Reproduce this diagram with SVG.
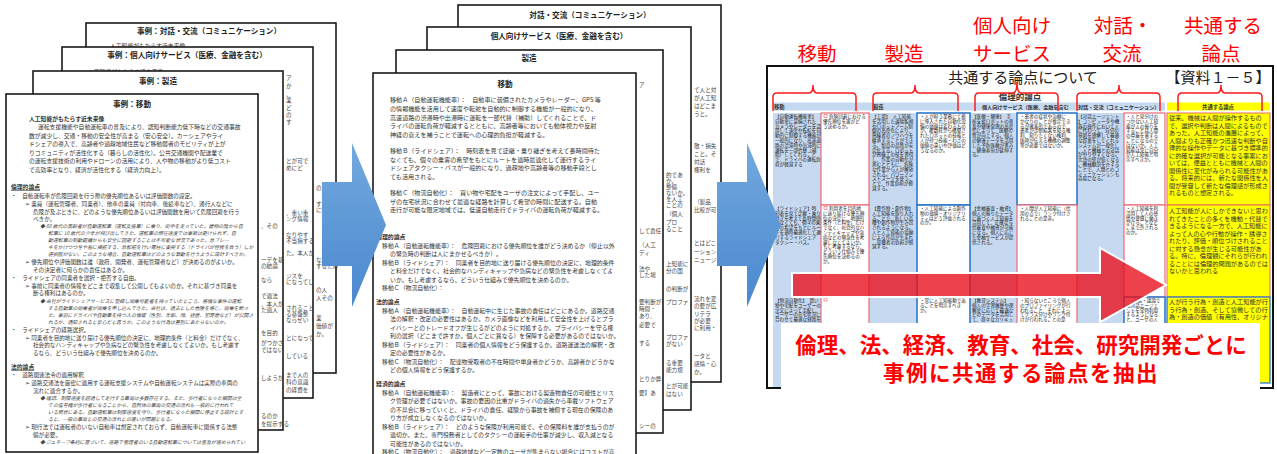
<svg xmlns="http://www.w3.org/2000/svg" width="1277" height="454" viewBox="0 0 1277 454">
<defs>
<linearGradient id="bg" x1="0" y1="0" x2="0" y2="1"><stop offset="0" stop-color="#72a9de"/><stop offset="1" stop-color="#4a88cf"/></linearGradient>
<style>
text{font-family:"Noto Sans CJK JP","Noto Sans CJK SC",sans-serif}
.pg{fill:#fff;stroke:#1a1a1a;stroke-width:1.6}
.ttl{font-size:7.6px;font-weight:bold;text-anchor:middle;fill:#222}
.l{font-size:5.8px;fill:#333}
.ls{font-size:5.6px;fill:#333}
.it{font-size:4.9px;fill:#444;font-style:italic}
.m{font-size:6.1px;fill:#333}
.ms{font-size:5.9px;fill:#333}
.h{font-weight:bold}
.u{text-decoration:underline}
.fr{font-size:5.6px;fill:#444}
.c{font-size:4.6px;fill:#1a1a1a}
.y{font-size:6.2px;fill:#333}
.lbl{font-size:19.5px;fill:#ff0000;text-anchor:middle}
.br{fill:none;stroke:#ff1a1a;stroke-width:1.5}
.iw{fill:#fff;stroke-width:1.2}
.rd{stroke:#ec6a76}
.bl{stroke:#2f78c8;stroke-width:1.6}
.big{font-size:21.5px;font-weight:bold;fill:#ff0000;text-anchor:middle}
</style>
</defs>

<!-- LEFT STACK -->
<g id="left-p4">
<rect class="pg" x="86" y="23" width="250" height="350"/>
<text class="ttl" x="209" y="34">事例：対話・交流（コミュニケーション）</text>
<text class="l" x="110" y="48">人工知能がもたらす近未来像</text>
<text class="fr" x="316" y="190">の活</text><text class="fr" x="316" y="206">すると</text><text class="fr" x="316" y="212">に提</text>
<text class="fr" x="316" y="262">な連携</text><text class="fr" x="316" y="268">するため</text><text class="fr" x="316" y="292">の人</text><text class="fr" x="316" y="300">人その</text>
<text class="fr" x="316" y="320">業</text><text class="fr" x="316" y="328">価値が</text><text class="fr" x="316" y="336">か。</text>
</g>
<g id="left-p3">
<rect class="pg" x="62" y="47" width="251" height="351"/>
<text class="ttl" x="187" y="58">事例：個人向けサービス（医療、金融を含む）</text>
<text class="l" x="88" y="73.5">人工知能がもたらす近未来像</text>
<text class="fr" x="286" y="80">ア</text><text class="fr" x="286" y="88">か</text><text class="fr" x="286" y="96">、</text><text class="fr" x="286" y="102">業</text><text class="fr" x="286" y="110">ど</text><text class="fr" x="286" y="117">の</text><text class="fr" x="286" y="124">す</text>
<text class="fr" x="286" y="163">とが可で</text><text class="fr" x="286" y="170">めにど</text>
<text class="fr" x="286" y="215">、重い重</text><text class="fr" x="286" y="221">ング情報</text><text class="fr" x="286" y="237">なりやす</text><text class="fr" x="286" y="243">不当損する</text><text class="fr" x="286" y="255">た。本人が</text>
<text class="fr" x="286" y="278">ジスを</text><text class="fr" x="286" y="284">になってし</text><text class="fr" x="286" y="310">されること</text><text class="fr" x="286" y="316">る基盤整</text><text class="fr" x="286" y="322">ならせい</text>
<text class="fr" x="286" y="340">とになって</text><text class="fr" x="286" y="358">している</text><text class="fr" x="286" y="377">まで人の</text><text class="fr" x="286" y="384">科の意識</text><text class="fr" x="286" y="392">の経費を</text>
</g>
<g id="left-p2">
<rect class="pg" x="33" y="71" width="250" height="359"/>
<text class="ttl" x="158" y="84">事例：製造</text>
<text class="fr" x="261" y="228">、その</text><text class="fr" x="261" y="262">ーデを基</text><text class="fr" x="261" y="268">の結論</text><text class="fr" x="261" y="282">なら</text>
<text class="fr" x="261" y="298">で適法</text><text class="fr" x="261" y="306">、本人が</text><text class="fr" x="261" y="312">た過人</text><text class="fr" x="261" y="335">を目的</text>
<text class="fr" x="261" y="345">がつかさ</text><text class="fr" x="261" y="352">ではない</text><text class="fr" x="261" y="380">しようが</text><text class="fr" x="261" y="418">るのか</text><text class="fr" x="261" y="426">を提示する</text>
</g>
<g id="left-p1">
<rect class="pg" x="6" y="94" width="252" height="358"/>
<text class="ttl" x="132" y="107">事例：移動</text>
<text class="l h" x="29" y="121">人工知能がもたらす近未来像</text>
<text class="l" x="38" y="129">運転支援機能や自動運転車の普及により、認知判断能力低下時などの交通事故</text>
<text class="l" x="29" y="137.5">数が減少し、交通・移動の安全性が高まる（安心安全）。カーシェアやライ</text>
<text class="l" x="29" y="146">ドシェアの導入で、高齢者や過疎地域住民など移動弱者のモビリティが上が</text>
<text class="l" x="29" y="154.5">りコミュニティが活性化する（暮らしの活性化）。公共交通機関や配送業で</text>
<text class="l" x="29" y="163">の運転支援技術の利用やドローンの活用により、人や物の移動がより低コスト</text>
<text class="l" x="29" y="171.5">で高効率となり、経済が活性化する（経済力向上）。</text>
<text class="l h u" x="11" y="189">倫理的論点</text>
<text class="ls" x="11" y="198">・　自動運転車が危険回避を行う際の優先順位あるいは評価関数の設定。</text>
<text class="ls" x="25" y="206">➢ 乗員（運転管理者、同乗者）、他車の乗員（対向車、後続車など）、通行人などに</text>
<text class="ls" x="33" y="213.5">危険が及ぶときに、どのような優先順位あるいは評価関数を用いて危険回避を行う</text>
<text class="ls" x="33" y="221">べきか。</text>
<text class="it" x="40" y="228">◆ 60 歳代の高齢者が自動運転車（運転支援車）に乗り、街中を走っていた。建物の陰から自</text>
<text class="it" x="48" y="235">転車に 10 歳代の少年が飛び出してきた。運転車の現在速度では事故は避けられず、自</text>
<text class="it" x="48" y="242">動運転車の制動距離からも安全に回避することは不可能な状況であった。急ブレー</text>
<text class="it" x="48" y="249">キをかけつつ左や右に操舵する、急転舵を行い電柱に衝突する（ドライバが怪我を負う）しか</text>
<text class="it" x="48" y="256">選択肢がない。このような場合、自動運転車はどのような挙動を行うように設計すべきか。</text>
<text class="ls" x="25" y="264">➢ 優先順位や評価関数は誰（政府、開発者、運転管理者など）が決めるのがよいか。</text>
<text class="ls" x="33" y="271.5">その決定者に何らかの責任はあるか。</text>
<text class="ls" x="11" y="279.5">・　ライドシェアの同乗者を選択・拒否する自由。</text>
<text class="ls" x="25" y="287.5">➢ 事前に同乗者の情報をどこまで収集して公開してもよいのか。それに基づき同乗を</text>
<text class="ls" x="33" y="295">断る権利はあるのか。</text>
<text class="it" x="40" y="302.5">◆ 会社がライドシェアサービスに登録し同乗可能者を待っていたところ、感情な事件の運転</text>
<text class="it" x="48" y="309.5">する自動車の同乗者が同乗を申し込んできた。会社は、過去とした危険を感じ、同乗を断っ</text>
<text class="it" x="48" y="316.5">た。事前にドライバや自動車を持つ人の情報（性別、年齢、顔、経歴、犯罪歴など）が公開さ</text>
<text class="it" x="48" y="323.5">れるか、通知されると安心だと思うか。このような行為は差別にあたらないのか。</text>
<text class="ls" x="11" y="331.5">・　ライドシェアの経路選択。</text>
<text class="ls" x="25" y="339.5">➢ 同乗者を目的地に送り届ける優先順位の決定に、地理的条件（と料金）だけでなく、</text>
<text class="ls" x="33" y="347">社会的なハンディキャップや急病などの緊急性を考慮しなくてよいか。もし考慮す</text>
<text class="ls" x="33" y="354.5">るなら、どういう仕組みで優先順位を決めるのか。</text>
<text class="l h u" x="11" y="369">法的論点</text>
<text class="ls" x="11" y="377">・　道路関連法令の適用解釈</text>
<text class="ls" x="25" y="385">➢ 道路交通法を厳密に適用する運転支援システムや自動運転システムは実際の車両の</text>
<text class="ls" x="33" y="392.5">流れに適合するか。</text>
<text class="it" x="40" y="400">◆ 確認、制限速度を超過して走行する車両は多数存在する。また、歩行者になった瞬間は全</text>
<text class="it" x="48" y="407">ての信号機が歩行者になることから、自然体の車両の交通の流れも一般的に行われて</text>
<text class="it" x="48" y="414">いる現状にある。自動運転車は制限速度を守り、歩行者になった瞬間に停止する設計とす</text>
<text class="it" x="48" y="421">ると、一般の車両との交通の流れとの違いが問題となる。</text>
<text class="ls" x="25" y="429">➢ 現行法では運転者のいない自動車は想定されておらず、自動運転車に関係する法整</text>
<text class="ls" x="33" y="436.5">備が必要。</text>
<text class="it" x="40" y="444">◆ ジュネーブ条約に基づいて、道路で管理者のいる自動運転車については言及が進められてい</text>
</g>

<!-- MIDDLE STACK -->
<g id="mid-p4">
<rect class="pg" x="458" y="5" width="263" height="377"/>
<text class="ttl" x="590" y="18">対話・交流（コミュニケーション）</text>
<text class="fr" x="694" y="92">て人と対</text><text class="fr" x="694" y="100">が人工知</text><text class="fr" x="694" y="108">はどこま</text><text class="fr" x="694" y="116">うと。</text>
<text class="fr" x="694" y="148">敢・損失</text><text class="fr" x="694" y="156">こと。そ</text><text class="fr" x="694" y="164">対話</text><text class="fr" x="694" y="172">権利を</text>
<text class="fr" x="694" y="204">（製品</text><text class="fr" x="694" y="212">比較が可</text><text class="fr" x="694" y="245">とはどこ</text><text class="fr" x="694" y="254">ーション</text><text class="fr" x="694" y="262">ニュージ</text>
<text class="fr" x="694" y="301">流れを変</text><text class="fr" x="694" y="308">の要が広</text><text class="fr" x="694" y="316">リテラ</text><text class="fr" x="694" y="323">が必要</text><text class="fr" x="694" y="330">に利用・</text>
<text class="fr" x="694" y="358">ータと</text><text class="fr" x="694" y="366">感情・心</text><text class="fr" x="694" y="374">か。</text>
</g>
<g id="mid-p3">
<rect class="pg" x="427" y="27" width="264" height="383"/>
<text class="ttl" x="559" y="39">個人向けサービス（医療、金融を含む）</text>
<text class="fr" x="666" y="177">的であ</text><text class="fr" x="666" y="183">か。</text><text class="fr" x="666" y="189">整備</text><text class="fr" x="666" y="195">ないか。</text><text class="fr" x="666" y="201">を人工</text><text class="fr" x="666" y="207">ことの</text>
<text class="fr" x="666" y="216">（個人</text><text class="fr" x="666" y="224">プロ</text><text class="fr" x="666" y="231">ること</text><text class="fr" x="666" y="266">上知能に</text><text class="fr" x="666" y="273">分の国</text>
<text class="fr" x="666" y="291">の判断が</text><text class="fr" x="666" y="304">プロファ</text><text class="fr" x="666" y="339">プロファ</text><text class="fr" x="666" y="346">がない</text>
<text class="fr" x="666" y="365">る重要</text><text class="fr" x="666" y="372">能力規</text><text class="fr" x="666" y="388">とが可能</text><text class="fr" x="666" y="396">はない</text>
</g>
<g id="mid-p2">
<rect class="pg" x="396" y="50" width="267" height="383"/>
<text class="ttl" x="529" y="61">製造</text>
<text class="fr" x="639" y="87">ア</text>
<text class="fr" x="639" y="233">して責任</text><text class="fr" x="639" y="247">（人工</text><text class="fr" x="639" y="255">ディ</text><text class="fr" x="639" y="271">法や</text><text class="fr" x="639" y="277">した場</text>
<text class="fr" x="639" y="304">要判断が</text><text class="fr" x="639" y="311">時間・</text><text class="fr" x="639" y="318">あり、</text><text class="fr" x="639" y="327">必要で</text><text class="fr" x="639" y="345">する</text>
<text class="fr" x="639" y="381">とりか弊</text><text class="fr" x="639" y="395">要】あ</text><text class="fr" x="639" y="428">シーの</text>
</g>
<g id="mid-p1">
<rect class="pg" x="373" y="73" width="263" height="384"/>
<text class="ttl" x="505" y="87">移動</text>
<text class="m" x="390" y="102">移動Ａ（自動運転機能車）：　自動車に装備されたカメラやレーダー、GPS 等</text>
<text class="m" x="390" y="111">の情報機能を活用して速度や転舵を自動的に制御する機能が一般的になり、</text>
<text class="m" x="390" y="119.5">高速道路の渋滞時や出滞時に運転を一部代替（補助）してくれることで、ド</text>
<text class="m" x="390" y="128">ライバの運転負荷が軽減するとともに、高齢者等においても動体視力や反射</text>
<text class="m" x="390" y="136.5">神経の衰えを補うことで運転への心理的負担が軽減する。</text>
<text class="m" x="390" y="153">移動Ｂ（ライドシェア）：　時刻表を見て迂継・乗り継ぎを考えて長時間待た</text>
<text class="m" x="390" y="161.5">なくても、個々の乗客の希望をもとにルートを適時最適化して運行するライ</text>
<text class="m" x="390" y="170">ドシェアタクシー・バスが一般的になり、過疎地や高齢者等の移動手段とし</text>
<text class="m" x="390" y="178.5">ても活用される。</text>
<text class="m" x="390" y="195">移動Ｃ（物流自動化）：　買い物や宅配をユーザの注文によって手配し、ユー</text>
<text class="m" x="390" y="203.5">ザの在宅状況に合わせて最適な経路を計算して希望の時間に配送する。自動</text>
<text class="m" x="390" y="212">走行が可能な限定地域では、低速自動走行でドライバの運転負荷が軽減する。</text>
<text class="ms h" x="376" y="239">倫理的論点</text>
<text class="ms" x="382" y="247.5">移動Ａ（自動運転機能車）：　危険回避における優先順位を誰がどう決めるか（停止以外</text>
<text class="ms" x="390" y="256">の緊急時の判断は人にまかせるべきか）。</text>
<text class="ms" x="382" y="264.5">移動Ｂ（ライドシェア）：　同乗者を目的地に送り届ける優先順位の決定に、地理的条件</text>
<text class="ms" x="390" y="273">と料金だけでなく、社会的なハンディキャップや急病などの緊急性を考慮しなくてよ</text>
<text class="ms" x="390" y="281.5">いか。もし考慮するなら、どういう仕組みで優先順位を決めるのか。</text>
<text class="ms" x="382" y="290">移動Ｃ（物流自動化）：</text>
<text class="ms h" x="376" y="304">法的論点</text>
<text class="ms" x="382" y="312.5">移動Ａ（自動運転機能車）：　自動運転中に生じた事故の責任はどこにあるか。道路交通</text>
<text class="ms" x="390" y="321">法の解釈・改定の必要性はあるか。カメラ画像などを利用して安全性を上げるとプラ</text>
<text class="ms" x="390" y="329.5">イバシーとのトレードオフが生じるがどのように対処するか。プライバシーを守る権</text>
<text class="ms" x="390" y="338">利の選択（どこまで許すか。個人ごとに異なる）を保障する必要があるのではないか。</text>
<text class="ms" x="382" y="346.5">移動Ｂ（ライドシェア）：　同乗者の個人情報をどう保護するか。道路運送法の解釈・改</text>
<text class="ms" x="390" y="355">定の必要性があるか。</text>
<text class="ms" x="382" y="363.5">移動Ｃ（物流自動化）：　配達物受取者の不在時間や単身者かどうか、高齢者かどうかな</text>
<text class="ms" x="390" y="372">どの個人情報をどう保護するか。</text>
<text class="ms h" x="376" y="386">経済的論点</text>
<text class="ms" x="382" y="394.5">移動Ａ（自動運転機能車）：　製造者にとって、事故における製造物責任の可能性とリス</text>
<text class="ms" x="390" y="403">ク管理が必要ではないか。事故の要因の比重がドライバの過失から車載ソフトウェア</text>
<text class="ms" x="390" y="411.5">の不具合に移っていくと、ドライバの責任、経験から事故を補償する現在の保険のあ</text>
<text class="ms" x="390" y="420">り方が成立しなくなるのではないか。</text>
<text class="ms" x="382" y="428.5">移動Ｂ（ライドシェア）：　どのような保険が利用可能で、その保険料を誰が支払うのが</text>
<text class="ms" x="390" y="437">適切か。また、専門役務者としてのタクシーの運転手の仕事が減少し、収入減となる</text>
<text class="ms" x="390" y="445.5">可能性があるのではないか。</text>
<text class="ms" x="382" y="454">移動Ｃ（物流自動化）：　過疎地域など一定数のユーザが集まらない場合にはコストが高</text>
</g>

<!-- RIGHT SPREADSHEET -->
<g id="sheet">
<rect x="767" y="66" width="506" height="322" fill="#fff" stroke="#111" stroke-width="2"/>
<text x="1023" y="83" font-size="15" text-anchor="middle" fill="#222">共通する論点について</text>
<text x="1218" y="83" font-size="15" text-anchor="middle" fill="#222">【資料１－５】</text>
<text x="1020" y="100" font-size="8.5" font-weight="bold" text-anchor="middle" fill="#333">倫理的論点</text>
<rect x="773" y="102.5" width="392" height="8" fill="#c5d9f1"/>
<rect x="1167" y="102.5" width="103" height="8" fill="#ffff00"/>
<text x="774" y="109" font-size="5.3" font-weight="bold" fill="#333">移動</text>
<text x="873" y="109" font-size="5.3" font-weight="bold" fill="#333">製造</text>
<text x="982" y="109" font-size="5.1" font-weight="bold" fill="#333">個人向けサービス（医療、金融を含む</text>
<text x="1078" y="109" font-size="5.1" font-weight="bold" fill="#333">対話・交流（コミュニケーション）</text>
<text x="1218" y="109" font-size="5.3" font-weight="bold" text-anchor="middle" fill="#333">共通する論点</text>
<rect x="773" y="113" width="392" height="274" fill="#c6d9f1"/>
<rect class="iw rd" x="821" y="113" width="48" height="92"/>
<rect class="iw rd" x="821" y="205" width="48" height="92"/>
<rect class="iw rd" x="821" y="297" width="48" height="90"/>
<rect class="iw bl" x="917" y="113" width="53" height="92"/>
<rect class="iw bl" x="917" y="205" width="53" height="92"/>
<rect class="iw bl" x="917" y="297" width="53" height="90"/>
<rect class="iw bl" x="1017" y="113" width="60" height="92"/>
<rect class="iw rd" x="1017" y="205" width="60" height="92"/>
<rect class="iw rd" x="1017" y="297" width="60" height="90"/>
<rect class="iw rd" x="1124" y="113" width="41" height="92"/>
<rect class="iw rd" x="1124" y="205" width="41" height="92"/>
<rect class="iw bl" x="1124" y="297" width="41" height="90"/>
<rect x="1167" y="113" width="103" height="92" fill="#ffff00" stroke="#e35c5c" stroke-width="0.9"/>
<rect x="1167" y="205" width="103" height="92" fill="#ffff00" stroke="#e35c5c" stroke-width="0.9"/>
<rect x="1167" y="297" width="103" height="86" fill="#ffff00" stroke="#2f78c8" stroke-width="1.3"/>
<rect x="824" y="298" width="3" height="3" fill="#fff" stroke="#e35c5c" stroke-width="0.6"/>
<rect x="824" y="114.5" width="3" height="3" fill="#fff" stroke="#e35c5c" stroke-width="0.6"/>
<rect x="824" y="206.5" width="3" height="3" fill="#fff" stroke="#e35c5c" stroke-width="0.6"/>

<text class="c" x="775" y="118"><tspan x="775">【自動運転機能車】</tspan><tspan x="775" dy="4.8">自動車に装備された</tspan><tspan x="775" dy="4.8">カメラやレーダーを活</tspan><tspan x="775" dy="4.8">用して速度や転舵を自</tspan><tspan x="775" dy="4.8">動的に制御する機能が</tspan><tspan x="775" dy="4.8">一般的になり、高速道</tspan><tspan x="775" dy="4.8">路の渋滞時や出滞時に</tspan><tspan x="775" dy="4.8">運転を一部代替（補</tspan><tspan x="775" dy="4.8">助）してくれること</tspan><tspan x="775" dy="4.8">で、ドライバの運転負</tspan><tspan x="775" dy="4.8">荷が軽減する</tspan></text>
<text class="c" x="829" y="118"><tspan x="829">危険回避における</tspan><tspan x="823" dy="4.8">優先順位を誰がど</tspan><tspan x="823" dy="4.8">う決めるか。</tspan></text>
<text class="c" x="775" y="210"><tspan x="775">【ライドシェア】時</tspan><tspan x="775" dy="4.8">刻表を見て迂継・乗り</tspan><tspan x="775" dy="4.8">継ぎを考えて長時間待</tspan><tspan x="775" dy="4.8">たなくても、個々の乗</tspan><tspan x="775" dy="4.8">客の希望をもとにルー</tspan><tspan x="775" dy="4.8">トを適時最適化して運</tspan><tspan x="775" dy="4.8">行するライドシェア</tspan><tspan x="775" dy="4.8">タクシー・バス。</tspan></text>
<text class="c" x="829" y="210"><tspan x="829">利用者を目的地</tspan><tspan x="823" dy="4.8">に送り届ける優先順</tspan><tspan x="823" dy="4.8">位の決定に、地理的</tspan><tspan x="823" dy="4.8">条件（と料金）だけ</tspan><tspan x="823" dy="4.8">でなく、社会的なハ</tspan><tspan x="823" dy="4.8">ンディキャップや急</tspan><tspan x="823" dy="4.8">病などの緊急性を考</tspan><tspan x="823" dy="4.8">慮しなくてよいか。</tspan><tspan x="823" dy="4.8">もし考慮するなら、</tspan><tspan x="823" dy="4.8">どういう仕組みで優</tspan><tspan x="823" dy="4.8">先順位を決めるの</tspan><tspan x="823" dy="4.8">か。</tspan></text>
<text class="c" x="775" y="302"><tspan x="775">【物流自動化】　買い</tspan><tspan x="775" dy="4.8">物や宅配をユーザーの</tspan><tspan x="775" dy="4.8">注文によって手配し、</tspan><tspan x="775" dy="4.8">ユーザーの在宅状況に</tspan><tspan x="775" dy="4.8">合わせて最適な経路を</tspan></text>

<text class="c" x="872" y="118"><tspan x="872">【工場】　人工知能</tspan><tspan x="872" dy="4.8">を活用した遠隔監視</tspan><tspan x="872" dy="4.8">やロボットアーム制</tspan><tspan x="872" dy="4.8">御の高度化により、</tspan><tspan x="872" dy="4.8">熟練者のノウハウを</tspan><tspan x="872" dy="4.8">継承することができ</tspan><tspan x="872" dy="4.8">る。製品の品質が安</tspan><tspan x="872" dy="4.8">定化する。ロボット</tspan><tspan x="872" dy="4.8">が熟練工の技を習得</tspan><tspan x="872" dy="4.8">し、作業の自動化が</tspan><tspan x="872" dy="4.8">進むとともに、危険</tspan><tspan x="872" dy="4.8">な作業から人が解放</tspan><tspan x="872" dy="4.8">される。パワーアシ</tspan><tspan x="872" dy="4.8">ストスーツを使うこ</tspan><tspan x="872" dy="4.8">とで、作業負担が軽</tspan><tspan x="872" dy="4.8">減する。</tspan></text>
<text class="c" x="920" y="118"><tspan x="920">・人が担う業務にて扱</tspan><tspan x="920" dy="4.8">に導入された自動化設</tspan><tspan x="920" dy="4.8">備の価値は変わるもの</tspan><tspan x="920" dy="4.8">か。複数社から構築さ</tspan><tspan x="920" dy="4.8">れたロボットの技能と</tspan><tspan x="920" dy="4.8">人が持つ技能・わざの</tspan><tspan x="920" dy="4.8">価値の違いや評価はど</tspan><tspan x="920" dy="4.8">うなるのか。</tspan></text>
<text class="c" x="872" y="210"><tspan x="872">【農作物・創作物】</tspan><tspan x="872" dy="4.8">人工知能を取り入れ</tspan><tspan x="872" dy="4.8">ることで、新しい品</tspan><tspan x="872" dy="4.8">種や創作物が生み出</tspan><tspan x="872" dy="4.8">されるようになる。</tspan><tspan x="872" dy="4.8">人と人工知能の協働</tspan><tspan x="872" dy="4.8">による作品が生まれ</tspan><tspan x="872" dy="4.8">、育種者の負担が軽</tspan><tspan x="872" dy="4.8">減する。</tspan></text>
<text class="c" x="920" y="210"><tspan x="920">・人工知能による創作</tspan><tspan x="920" dy="4.8">物の価値・オリジナリ</tspan><tspan x="920" dy="4.8">ティはどう評価される</tspan><tspan x="920" dy="4.8">のか。</tspan></text>
<text class="c" x="920" y="302"><tspan x="920">・常に人工知能動であ</tspan><tspan x="920" dy="4.8">ることを明示すべき</tspan><tspan x="920" dy="4.8">か。</tspan></text>

<text class="c" x="972" y="118"><tspan x="972">【医療・健康】　手</tspan><tspan x="972" dy="4.8">術支援ロボットの普</tspan><tspan x="972" dy="4.8">及や健康管理の高度</tspan><tspan x="972" dy="4.8">化によって、医療の</tspan><tspan x="972" dy="4.8">質が向上する。個人</tspan><tspan x="972" dy="4.8">の健康データを活用</tspan><tspan x="972" dy="4.8">した予防医療が進み</tspan><tspan x="972" dy="4.8">、健康寿命が延伸す</tspan><tspan x="972" dy="4.8">る。</tspan></text>
<text class="c" x="1020" y="118"><tspan x="1020">・患者の症状や治療に</tspan><tspan x="1020" dy="4.8">かなりのことが推定でき</tspan><tspan x="1020" dy="4.8">るが確率的であるので、</tspan><tspan x="1020" dy="4.8">患者が診断結果を知る権</tspan><tspan x="1020" dy="4.8">利、知りたくない権利、</tspan><tspan x="1020" dy="4.8">医師が伝える機構の調整</tspan><tspan x="1020" dy="4.8">等が必要ではないか。</tspan></text>
<text class="c" x="972" y="210"><tspan x="972">【金融審査・融資】</tspan><tspan x="972" dy="4.8">個人の振りたデータ</tspan><tspan x="972" dy="4.8">に基づく人工知能を</tspan><tspan x="972" dy="4.8">活用して、正確な与</tspan><tspan x="972" dy="4.8">信審査や融資が可能</tspan><tspan x="972" dy="4.8">になる。個人に応じ</tspan><tspan x="972" dy="4.8">た金融サービスが提</tspan><tspan x="972" dy="4.8">供される。</tspan></text>
<text class="c" x="1020" y="210"><tspan x="1020">・人間が人工知能に（信</tspan><tspan x="1020" dy="4.8">用の点で）ランク付けさ</tspan><tspan x="1020" dy="4.8">れることの是非。</tspan></text>
<text class="c" x="972" y="302"><tspan x="972">【教育システム】</tspan><tspan x="972" dy="4.8">個人の学習履歴や理</tspan><tspan x="972" dy="4.8">解度に応じて最適な</tspan><tspan x="972" dy="4.8">どのデータを活用し</tspan><tspan x="972" dy="4.8">て、様々なカリキュ</tspan></text>
<text class="c" x="1020" y="302"><tspan x="1020">・知らないところで個人</tspan><tspan x="1020" dy="4.8">のプロファイリングが行</tspan><tspan x="1020" dy="4.8">われること、それによっ</tspan><tspan x="1020" dy="4.8">てクラス分けやランク付</tspan><tspan x="1020" dy="4.8">けが行われることの是</tspan></text>

<text class="c" x="1078" y="118"><tspan x="1078">【対話エージェント</tspan><tspan x="1078" dy="4.8">】コンピュータや機</tspan><tspan x="1078" dy="4.8">器の操作において人</tspan><tspan x="1078" dy="4.8">に代わって、自分の</tspan><tspan x="1078" dy="4.8">意図を理解して最適</tspan><tspan x="1078" dy="4.8">な提案をしてくれる</tspan><tspan x="1078" dy="4.8">システムが一般化し</tspan><tspan x="1078" dy="4.8">、人と機械との対話</tspan><tspan x="1078" dy="4.8">がやりやすくなる。</tspan><tspan x="1078" dy="4.8">言語の壁が低くなる</tspan><tspan x="1078" dy="4.8">。機械翻訳を介する</tspan><tspan x="1078" dy="4.8">ことで、人間とのコ</tspan><tspan x="1078" dy="4.8">ミュニケーションも</tspan><tspan x="1078" dy="4.8">容易になる。</tspan></text>
<text class="c" x="1126" y="118"><tspan x="1126">・人と見分けの</tspan><tspan x="1126" dy="4.8">つかない人工知</tspan><tspan x="1126" dy="4.8">能が人の振りを</tspan><tspan x="1126" dy="4.8">することは人間</tspan><tspan x="1126" dy="4.8">の尊厳を害する</tspan><tspan x="1126" dy="4.8">ことになるので</tspan><tspan x="1126" dy="4.8">はないか。人工</tspan><tspan x="1126" dy="4.8">知能は常に自分</tspan><tspan x="1126" dy="4.8">が人工知能と明</tspan><tspan x="1126" dy="4.8">示すべきか。</tspan></text>
<text class="c" x="1126" y="210"><tspan x="1126">・人工知能を利</tspan><tspan x="1126" dy="4.8">活用して人の感</tspan><tspan x="1126" dy="4.8">情や習慣に働き</tspan><tspan x="1126" dy="4.8">かけることなど</tspan><tspan x="1126" dy="4.8">こまで許される</tspan><tspan x="1126" dy="4.8">のか。</tspan></text>
<text class="c" x="1126" y="302"><tspan x="1126">・（対話・議論で</tspan><tspan x="1126" dy="4.8">は対話エージェ</tspan><tspan x="1126" dy="4.8">ントを常時利用</tspan><tspan x="1126" dy="4.8">するようになる</tspan><tspan x="1126" dy="4.8">と、ユーザの人</tspan></text>

<text class="y" x="1169" y="120"><tspan x="1169">従来、機械は人間が操作するもの</tspan><tspan x="1169" dy="7.5">で、選択や判断は人間によるもので</tspan><tspan x="1169" dy="7.5">あった。人工知能の進展によって、</tspan><tspan x="1169" dy="7.5">人間よりも正確かつ迅速な判断や自</tspan><tspan x="1169" dy="7.5">律的な操作やデータに基づき標準的</tspan><tspan x="1169" dy="7.5">に的確な選択が可能となる事案にお</tspan><tspan x="1169" dy="7.5">いては、便益とともに機械と人間の</tspan><tspan x="1169" dy="7.5">関係性に変化がみられる可能性があ</tspan><tspan x="1169" dy="7.5">る。将来的には、新たな関係性を人</tspan><tspan x="1169" dy="7.5">間が受容して新たな倫理感が形成さ</tspan><tspan x="1169" dy="7.5">れるものと想定される。</tspan></text>
<text class="y" x="1169" y="213"><tspan x="1169">人工知能が人にしかできないと思わ</tspan><tspan x="1169" dy="7.5">れてきたことの多くを機動・代替で</tspan><tspan x="1169" dy="7.5">きるようになる一方で、人工知能に</tspan><tspan x="1169" dy="7.5">よって人の心や行動が操作・誘導さ</tspan><tspan x="1169" dy="7.5">れたり、評価・順位づけされること</tspan><tspan x="1169" dy="7.5">に対する懸念が生じる可能性があ</tspan><tspan x="1169" dy="7.5">る。特に、倫理観にそれらが行われ</tspan><tspan x="1169" dy="7.5">ることには倫理的問題があるのでは</tspan><tspan x="1169" dy="7.5">ないかと思われる</tspan></text>
<text class="y" x="1169" y="304"><tspan x="1169">人が行う行為・創造と人工知能が行</tspan><tspan x="1169" dy="7.5">う行為・創造、そして協働しての行</tspan><tspan x="1169" dy="7.5">為・創造の価値（有用性、オリジナ</tspan></text>
</g>

<!-- LABELS & BRACES -->
<g id="labels">
<text class="lbl" x="817" y="61">移動</text>
<text class="lbl" x="904" y="61">製造</text>
<text class="lbl" x="1012" y="32.5">個人向け</text>
<text class="lbl" x="1012" y="61">サービス</text>
<text class="lbl" x="1123" y="32.5">対話・</text>
<text class="lbl" x="1122" y="61">交流</text>
<text class="lbl" x="1223" y="32.5">共通する</text>
<text class="lbl" x="1221" y="61">論点</text>
</g>
<g id="braces">
<path class="br" d="M773,111 V97 Q773,93 777,93 H809 Q813,93 813,85 Q813,93 817,93 H852 Q856,93 856,97 V111"/>
<path class="br" d="M873,111 V97 Q873,93 877,93 H911 Q915,93 915,85 Q915,93 919,93 H954 Q958,93 958,97 V111"/>
<path class="br" d="M975,111 V97 Q975,93 979,93 H1013 Q1017,93 1017,82 Q1017,93 1021,93 H1054 Q1058,93 1058,97 V111"/>
<path class="br" d="M1077,111 V97 Q1077,93 1081,93 H1115 Q1119,93 1119,85 Q1119,93 1123,93 H1156 Q1160,93 1160,97 V111"/>
<path class="br" d="M1178,111 V97 Q1178,93 1182,93 H1217 Q1221,93 1221,85 Q1221,93 1225,93 H1258 Q1262,93 1262,97 V111"/>
</g>

<!-- CONNECTORS -->
<g id="connectors">
<polygon points="322,182 352,182 352,143 386,225 352,307 352,266 322,266" fill="url(#bg)"/>
<polygon points="717,182 747,182 747,143 781,225 747,307 747,266 717,266" fill="url(#bg)"/>
<polygon points="792,273 1100,273 1100,248 1166,285 1100,322 1100,297 792,297" fill="#e8111e" fill-opacity="0.8" stroke="#fff" stroke-width="2"/>
</g>

<g id="summary">
<rect x="781" y="323" width="479" height="66" fill="#fff"/>
<text class="big" x="1021" y="353">倫理、法、経済、教育、社会、研究開発ごとに</text>
<text class="big" x="1021" y="381" letter-spacing="1.5">事例に共通する論点を抽出</text>
</g>
</svg>
